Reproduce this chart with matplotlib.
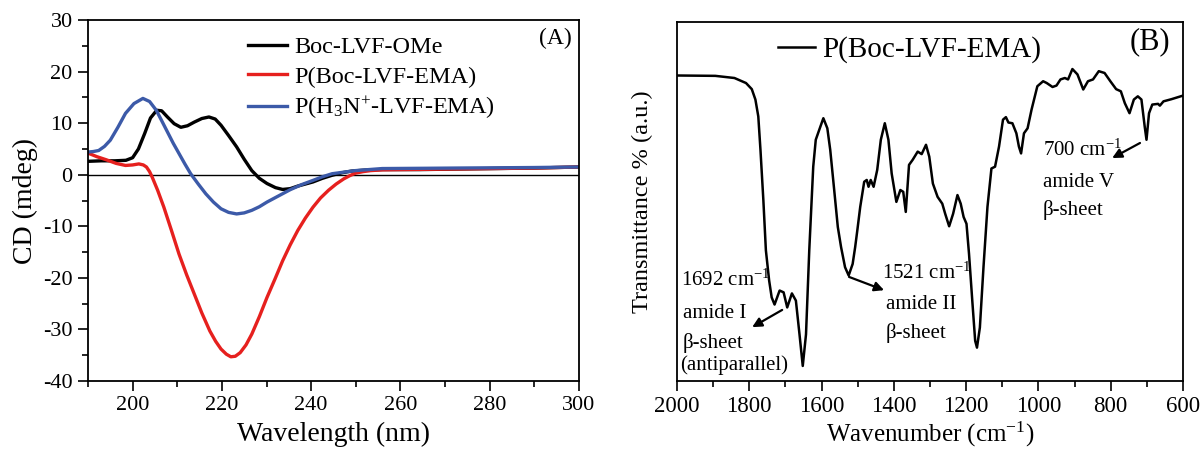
import matplotlib
matplotlib.use("Agg")
import matplotlib.pyplot as plt
from matplotlib.ticker import MultipleLocator

plt.rcParams['font.family'] = ['Liberation Serif', 'DejaVu Serif']
plt.rcParams['mathtext.fontset'] = 'custom'
plt.rcParams['mathtext.rm'] = 'Liberation Serif'
plt.rcParams['mathtext.it'] = 'Liberation Serif:italic'
plt.rcParams['mathtext.bf'] = 'Liberation Serif:bold'
plt.rcParams['axes.unicode_minus'] = False

# (A) CD spectra
wl_boc = [190, 193, 196, 198.5, 200, 201.3, 202.7, 204, 205.4, 206.5, 207.8, 209.3, 210.8,
          212.3, 213.8, 215.5, 217.1, 218.5, 219.8, 221.5, 223.3, 225, 226.7, 228.4, 230.1,
          232, 233.6, 235.3, 237, 240.4, 242.5, 244.7, 247, 249, 252, 255.9, 264.4, 272,
          281.6, 290, 300]
cd_boc = [2.6, 2.7, 2.7, 2.8, 3.3, 5, 8, 11, 12.5, 12.4, 11.2, 9.9, 9.2,
          9.5, 10.2, 10.9, 11.2, 10.8, 9.6, 7.6, 5.4, 3, 0.8, -0.7, -1.7,
          -2.5, -2.85, -2.7, -2.2, -1.4, -0.7, -0.1, 0.4, 0.7, 0.9, 1.0, 1.0, 1.1,
          1.2, 1.3, 1.5]

wl_pboc = [190, 192, 194.1, 196.3, 198.4, 200, 201.4, 202.4, 203.1, 203.8, 204.4, 205.6,
           207, 208.7, 210.4, 212.1, 213.8, 215.5, 217.3, 218.6, 219.8, 221, 222, 223,
           224.1, 225.4, 226.7, 228.4, 230.1, 231.9, 233.6, 235.3, 237, 238.7, 240.4,
           242.1, 243.9, 245.6, 247.3, 248.6, 249.9, 251.6, 253.3, 256, 260.2, 270, 280,
           290, 300]
cd_pboc = [4.2, 3.5, 2.9, 2.2, 1.8, 1.9, 2.1, 1.9, 1.5, 0.6, -0.5, -3,
           -6.3, -10.8, -15.4, -19.4, -23.1, -26.8, -30.3, -32.3, -33.8, -34.8, -35.3, -35.2,
           -34.5, -33, -30.9, -27.5, -23.8, -20.2, -16.7, -13.6, -10.8, -8.4, -6.3,
           -4.5, -3.0, -1.8, -0.8, -0.2, 0.3, 0.6, 0.8, 0.95, 1.0, 1.1, 1.2,
           1.3, 1.5]

wl_ph3n = [190, 191.2, 192.4, 193.7, 195, 196.7, 198.4, 200.3, 202.3, 203.8, 205.3, 206.5,
           207.8, 209.1, 210.4, 211.7, 213, 214.7, 216.4, 218.1, 219.8, 221.5, 223.3, 225,
           226.7, 228.4, 230.1, 232.7, 235.3, 237.9, 240.4, 242.5, 244.7, 247.3, 249.9,
           255.9, 265, 273, 290, 300]
cd_ph3n = [4.4, 4.5, 4.7, 5.5, 6.7, 9.2, 11.9, 13.8, 14.8, 14.2, 12.5, 10.5,
           8.3, 6.1, 4.1, 2.1, 0.2, -1.8, -3.7, -5.3, -6.6, -7.3, -7.6, -7.4,
           -6.9, -6.2, -5.3, -4.1, -2.9, -1.9, -1.1, -0.4, 0.2, 0.5, 0.8,
           1.2, 1.25, 1.3, 1.4, 1.5]

cd_labels = ['Boc-LVF-OMe', 'P(Boc-LVF-EMA)', 'P(H$_3$N$^{+}$-LVF-EMA)']

# (B) FTIR spectrum
wn = [2000, 1894, 1841, 1809, 1793, 1783, 1775, 1769, 1761, 1754, 1745, 1738, 1730, 1716,
      1705, 1695, 1682, 1671, 1661, 1652, 1643, 1634, 1623, 1616, 1608, 1595, 1584, 1576,
      1565, 1555, 1546, 1535, 1525, 1514, 1507, 1501, 1493, 1482, 1475, 1470, 1464, 1456,
      1446, 1436, 1425, 1415, 1406, 1393, 1382, 1374, 1367, 1358, 1348, 1334, 1323, 1311,
      1302, 1292, 1279, 1266, 1258, 1247, 1236, 1224, 1215, 1207, 1199, 1192, 1183, 1175,
      1170, 1162, 1152, 1141, 1130, 1120, 1109, 1098, 1090, 1083, 1072, 1061, 1054, 1048,
      1040, 1030, 1019, 1003, 987, 977, 961, 950, 939, 927, 918, 906, 892, 876, 863, 849,
      833, 817, 801, 785, 772, 761, 748, 736, 725, 715, 706, 701, 694, 685, 669, 664, 654,
      632, 600]
trans = [85.1, 85, 84.4, 83, 81.3, 78.4, 73.7, 64.4, 50.4, 36.4, 28, 23.3, 21.3, 25.2,
         24.7, 20.5, 24.4, 22.4, 13, 4.2, 13, 36.4, 59.7, 67.2, 69.5, 73.2, 70.4, 64.4,
         53.2, 42.9, 37.3, 31.7, 29.4, 32.6, 37.3, 42, 48.5, 55.5, 56, 54.1, 56, 54.1,
         58.8, 67.2, 71.8, 67.2, 57.8, 49.9, 53.2, 52.7, 47.1, 60.2, 61.6, 63.9, 63.2, 65.8,
         62.5, 55, 51.3, 49.4, 46.6, 43.1, 46.6, 51.8, 49.4, 45.7, 43.8, 35.4, 22.4, 11.2,
         9.3, 14.9, 31.7, 48.5, 59.2, 59.7, 65.3, 72.8, 73.5, 72, 71.8, 69, 65.3, 63.4,
         69, 70.4, 75.6, 82.1, 83.5, 83, 81.9, 82.3, 84, 84.4, 84, 86.9, 85.4, 81.2, 83.5, 84,
         86.3, 85.8, 83.5, 81.3, 80.7, 77.4, 74.6, 78.4, 79.3, 78.4, 70.9, 67.2, 74.6, 77, 77.2,
         76.7, 77.9, 78.5, 79.5]

fig = plt.figure(figsize=(12.02, 4.49), dpi=100)
ax1 = fig.add_axes([0.0732, 0.1514, 0.4085, 0.804])
ax2 = fig.add_axes([0.5632, 0.1514, 0.421, 0.7996])

# --- panel A
ax1.axhline(0, color='black', lw=1.0)
ax1.plot(wl_boc, cd_boc, color='black', lw=2.4, label=cd_labels[0])
ax1.plot(wl_pboc, cd_pboc, color='#e6201e', lw=2.4, label=cd_labels[1])
ax1.plot(wl_ph3n, cd_ph3n, color='#3c5aa8', lw=2.4, label=cd_labels[2])
ax1.set_xlim(190, 300)
ax1.set_ylim(-40, 30)
ax1.xaxis.set_major_locator(MultipleLocator(20))
ax1.xaxis.set_minor_locator(MultipleLocator(10))
ax1.yaxis.set_major_locator(MultipleLocator(10))
ax1.yaxis.set_minor_locator(MultipleLocator(5))
ax1.tick_params(which='major', length=7, width=1.2, labelsize=16, pad=4)
ax1.tick_params(which='minor', length=4, width=1.2)
ax1.set_xlabel('Wavelength (nm)', fontsize=20)
ax1.xaxis.set_label_coords(0.5, -0.113)
ax1.set_ylabel('CD (mdeg)', fontsize=20, va='center')
ax1.yaxis.set_label_coords(-0.128, 0.5)
ax1.legend(loc='upper left', bbox_to_anchor=(0.326, 0.955), frameon=False,
           fontsize=17.5, handlelength=1.6, handletextpad=0.3, labelspacing=0.3,
           borderpad=0, borderaxespad=0)
ax1.text(0.952, 0.95, '(A)', transform=ax1.transAxes, fontsize=17,
         ha='center', va='center')

# --- panel B
ax2.plot(wn, trans, color='black', lw=1.8, label='P(Boc-LVF-EMA)')
ax2.set_xlim(2000, 600)
ax2.set_ylim(0, 100)
ax2.xaxis.set_major_locator(MultipleLocator(200))
ax2.xaxis.set_minor_locator(MultipleLocator(100))
ax2.set_yticks([])
ax2.tick_params(which='major', length=7, width=1.2, labelsize=16.5, pad=4)
ax2.tick_params(which='minor', length=4, width=1.2)
ax2.set_xlabel('Wavenumber (cm$^{-1}$)', fontsize=18)
ax2.xaxis.set_label_coords(0.5, -0.108)
ax2.set_ylabel('Transmittance % (a.u.)', fontsize=17.5, va='center')
ax2.yaxis.set_label_coords(-0.069, 0.5)
ax2.legend(loc='upper left', bbox_to_anchor=(0.2, 0.96), frameon=False,
           fontsize=21, handlelength=1.25, handletextpad=0.25,
           borderpad=0, borderaxespad=0)
ax2.text(0.935, 0.945, '(B)', transform=ax2.transAxes, fontsize=22,
         ha='center', va='center')

# band annotations
notes = [
    (1990, 28.1, '1692 cm$^{-1}$'), (1983, 18.9, 'amide I'),
    (1983, 10.6, 'β-sheet'), (1992, 4.5, '(antiparallel)'),
    (1433, 30.1, '1521 cm$^{-1}$'), (1422, 21.2, 'amide II'), (1422, 13.4, 'β-sheet'),
    (987, 64.3, '700 cm$^{-1}$'), (987, 55.4, 'amide V'), (987, 47.6, 'β-sheet'),
]
for x, y, s in notes:
    ax2.text(x, y, s, fontsize=15, ha='left', va='center')

arrows = [((1709, 19.8), (1792, 15.0)), ((1524, 29.0), (1427, 25.3)),
          ((719, 66.3), (796, 62.1))]
for tail, head in arrows:
    ax2.annotate('', xy=head, xytext=tail,
                 arrowprops=dict(arrowstyle='-|>', color='black', lw=1.6,
                                 mutation_scale=14, shrinkA=0, shrinkB=0))

for ax in (ax1, ax2):
    for sp in ax.spines.values():
        sp.set_linewidth(1.3)

fig.savefig('out.png', dpi=100)
